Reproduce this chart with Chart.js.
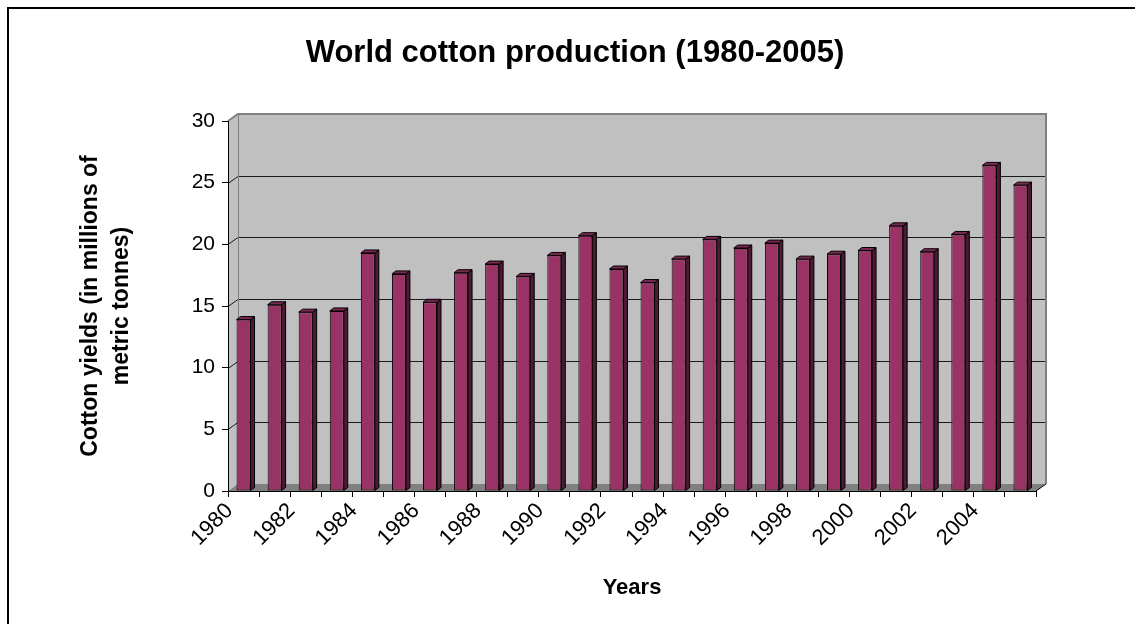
<!DOCTYPE html>
<html>
<head>
<meta charset="utf-8">
<script src="https://cdn.jsdelivr.net/npm/chart.js@4.4.0/dist/chart.umd.min.js"></script>
<style>
  html, body { margin: 0; padding: 0; background: #fff; }
  #wrap { width: 1135px; height: 624px; }
</style>
</head>
<body>
<div id="wrap"><canvas id="cotton" width="1135" height="624"></canvas></div>
<script>
// World cotton production, millions of metric tonnes
const years = ['1980', '1981', '1982', '1983', '1984', '1985', '1986', '1987', '1988',
    '1989', '1990', '1991', '1992', '1993', '1994', '1995', '1996', '1997', '1998',
    '1999', '2000', '2001', '2002', '2003', '2004', '2005'];
const production = [13.9, 15.1, 14.5, 14.6, 19.3, 17.6, 15.3, 17.7, 18.4,
    17.4, 19.1, 20.7, 18.0, 16.9, 18.8, 20.4, 19.7, 20.1, 18.8,
    19.2, 19.5, 21.5, 19.4, 20.8, 26.4, 24.8];
const yTicks = [0, 5, 10, 15, 20, 25, 30];

const FONT = '"Liberation Sans", Arial, sans-serif';
const DEPTH_X = 10, DEPTH_Y = -7;     // wall depth offset
const BAR_DX = 4, BAR_DY = -3;        // bar depth offset

// white page with the outer frame, then walls, floor and gridlines
const wallsPlugin = {
    id: 'walls',
    beforeDraw(chart) {
        const { ctx, chartArea: a, scales: { y } } = chart;
        ctx.save();
        ctx.fillStyle = '#fff';
        ctx.fillRect(0, 0, chart.width, chart.height);
        ctx.strokeStyle = '#000';
        ctx.lineWidth = 2;
        ctx.strokeRect(8, 8, chart.width + 20, chart.height + 20);

        const top = y.getPixelForValue(30), bot = y.getPixelForValue(0);
        const L = a.left, R = a.right;

        // back wall + left wall
        ctx.fillStyle = '#c0c0c0';
        ctx.beginPath();
        ctx.moveTo(L, bot);
        ctx.lineTo(L, top);
        ctx.lineTo(L + DEPTH_X, top + DEPTH_Y);
        ctx.lineTo(R + DEPTH_X, top + DEPTH_Y);
        ctx.lineTo(R + DEPTH_X, bot + DEPTH_Y);
        ctx.lineTo(L + DEPTH_X, bot + DEPTH_Y);
        ctx.closePath();
        ctx.fill();

        // floor
        ctx.fillStyle = '#808080';
        ctx.beginPath();
        ctx.moveTo(L, bot);
        ctx.lineTo(R, bot);
        ctx.lineTo(R + DEPTH_X, bot + DEPTH_Y);
        ctx.lineTo(L + DEPTH_X, bot + DEPTH_Y);
        ctx.closePath();
        ctx.fill();

        // gridlines across side wall and back wall
        ctx.strokeStyle = '#1a1a1a';
        ctx.lineWidth = 1;
        yTicks.forEach(v => {
            if (v === 0 || v === 30) return;
            const py = Math.round(y.getPixelForValue(v)) + 0.5;
            ctx.beginPath();
            ctx.moveTo(L, py);
            ctx.lineTo(L + DEPTH_X, py + DEPTH_Y);
            ctx.lineTo(R + DEPTH_X, py + DEPTH_Y);
            ctx.stroke();
        });

        // wall edges
        ctx.strokeStyle = '#808080';
        ctx.lineWidth = 2;
        ctx.beginPath();
        ctx.moveTo(L, top);
        ctx.lineTo(L + DEPTH_X, top + DEPTH_Y);
        ctx.lineTo(R + DEPTH_X, top + DEPTH_Y);
        ctx.lineTo(R + DEPTH_X, bot + DEPTH_Y);
        ctx.stroke();
        ctx.lineWidth = 1;
        ctx.beginPath();
        ctx.moveTo(L + DEPTH_X + 0.5, top + DEPTH_Y);
        ctx.lineTo(L + DEPTH_X + 0.5, bot + DEPTH_Y);
        ctx.stroke();

        // floor front-right corner
        ctx.strokeStyle = '#000';
        ctx.beginPath();
        ctx.moveTo(R, bot);
        ctx.lineTo(R + DEPTH_X, bot + DEPTH_Y);
        ctx.stroke();
        ctx.restore();
    }
};

// side and top faces of every column
const columnsPlugin = {
    id: 'columns3d',
    afterDatasetsDraw(chart) {
        const { ctx } = chart;
        ctx.save();
        ctx.strokeStyle = '#000';
        ctx.lineWidth = 1;
        ctx.lineJoin = 'round';
        chart.getDatasetMeta(0).data.forEach(bar => {
            const { x, y, base, width } = bar.getProps(['x', 'y', 'base', 'width'], true);
            const xl = x - width / 2, xr = x + width / 2;
            // side
            ctx.fillStyle = '#4c1a33';
            ctx.beginPath();
            ctx.moveTo(xr, y);
            ctx.lineTo(xr + BAR_DX, y + BAR_DY);
            ctx.lineTo(xr + BAR_DX, base + BAR_DY);
            ctx.lineTo(xr, base);
            ctx.closePath();
            ctx.fill();
            ctx.stroke();
            // top
            ctx.fillStyle = '#7a2852';
            ctx.beginPath();
            ctx.moveTo(xl, y);
            ctx.lineTo(xl + BAR_DX, y + BAR_DY);
            ctx.lineTo(xr + BAR_DX, y + BAR_DY);
            ctx.lineTo(xr, y);
            ctx.closePath();
            ctx.fill();
            ctx.stroke();
        });
        ctx.restore();
    }
};

new Chart(document.getElementById('cotton'), {
    type: 'bar',
    data: {
        labels: years,
        datasets: [{
            label: 'Cotton',
            data: production,
            backgroundColor: '#993366',
            borderColor: '#000',
            borderWidth: 1,
            borderSkipped: false,
            barPercentage: 0.45,
            categoryPercentage: 1,
        }]
    },
    options: {
        responsive: false,
        animation: false,
        devicePixelRatio: 1,
        layout: { padding: { left: 15, right: 0, top: 0, bottom: 0 } },
        plugins: {
            legend: { display: false },
            tooltip: { enabled: false },
            title: {
                display: true,
                text: 'World cotton production (1980-2005)',
                color: '#000',
                font: { family: FONT, size: 31, weight: 'bold', lineHeight: 1.2 },
                padding: { top: 35, bottom: 48.8 }
            }
        },
        scales: {
            x: {
                offset: true,
                afterFit(scale) { scale.height = 133; },
                grid: {
                    display: true,
                    drawOnChartArea: false,
                    drawTicks: true,
                    tickLength: 6,
                    color: '#000',
                    offset: true
                },
                border: { display: true, color: '#000', width: 1 },
                ticks: {
                    autoSkip: false,
                    maxRotation: 45,
                    minRotation: 45,
                    labelOffset: -14,
                    padding: 1,
                    color: '#000',
                    font: { family: FONT, size: 22 },
                    callback: (v, i) => (i % 2 === 0 ? years[i] : '')
                },
                title: {
                    display: true,
                    text: 'Years',
                    color: '#000',
                    font: { family: FONT, size: 22, weight: 'bold', lineHeight: 1.2 },
                    padding: { top: 0, bottom: 23 }
                }
            },
            y: {
                min: 0,
                max: 30,
                afterFit(scale) { scale.width = 213; },
                afterBuildTicks(scale) { scale.ticks = yTicks.map(v => ({ value: v })); },
                grid: {
                    display: true,
                    drawOnChartArea: false,
                    drawTicks: true,
                    tickLength: 6,
                    color: '#000'
                },
                border: { display: true, color: '#000', width: 1 },
                ticks: {
                    padding: 7,
                    color: '#000',
                    font: { family: FONT, size: 21 }
                },
                title: {
                    display: true,
                    text: ['Cotton yields (in millions of', 'metric tonnes)'],
                    color: '#000',
                    font: { family: FONT, size: 23, weight: 'bold', lineHeight: 1.35 },
                    padding: { top: 60, bottom: 0 }
                }
            },
            // empty right-hand axis that keeps the plot clear of the right margin
            spacer: {
                type: 'linear',
                position: 'right',
                display: true,
                afterFit(scale) { scale.width = 99; },
                grid: { display: false },
                border: { display: false },
                ticks: { display: false }
            }
        }
    },
    plugins: [wallsPlugin, columnsPlugin]
});
</script>
</body>
</html>
